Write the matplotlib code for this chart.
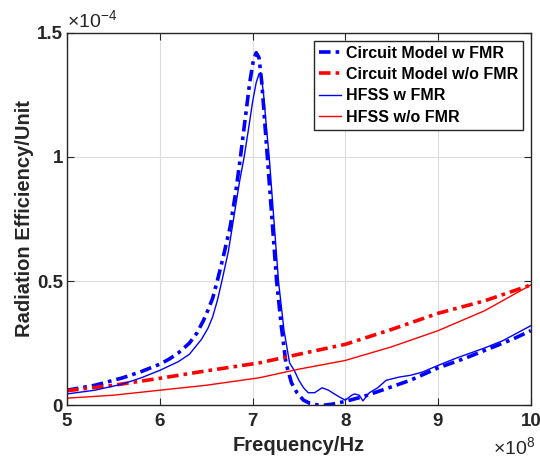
import numpy as np
import matplotlib.pyplot as plt

plt.rcParams['font.family'] = ['Liberation Sans', 'DejaVu Sans']
plt.rcParams['mathtext.fontset'] = 'custom'
plt.rcParams['mathtext.rm'] = 'Liberation Sans'

# frequency in units of 1e8 Hz, efficiency in units of 1e-4
f_cm_w = [5.0, 5.3, 5.6, 5.8, 6.0, 6.1, 6.2, 6.32, 6.4, 6.47, 6.52, 6.57, 6.62,
          6.68, 6.76, 6.82, 6.87, 6.92, 6.97, 7.01, 7.04, 7.07, 7.10, 7.13, 7.16,
          7.21, 7.26, 7.31, 7.36, 7.42, 7.48, 7.55, 7.62, 7.70, 7.78, 7.86, 8.0,
          8.2, 8.47, 8.7, 9.0, 9.3, 9.5, 9.8, 10.0]
e_cm_w = [0.060, 0.080, 0.110, 0.135, 0.165, 0.185, 0.210, 0.250, 0.290, 0.340,
          0.383, 0.430, 0.50, 0.59, 0.72, 0.86, 1.0, 1.15, 1.30, 1.39, 1.42, 1.40,
          1.30, 1.15, 1.00, 0.75, 0.50, 0.32, 0.17, 0.09, 0.05, 0.02, 0.007,
          0.001, 0.0, 0.004, 0.015, 0.035, 0.07, 0.10, 0.15, 0.19, 0.22, 0.265, 0.30]

f_cm_wo = [5.0, 5.5, 6.0, 6.5, 7.07, 7.5, 8.0, 8.5, 9.0, 9.5, 10.0]
e_cm_wo = [0.058, 0.08, 0.108, 0.138, 0.17, 0.205, 0.245, 0.305, 0.37, 0.42, 0.484]

f_hf_w = [5.0, 5.3, 5.6, 5.8, 6.0, 6.2, 6.32, 6.45, 6.52, 6.57, 6.62, 6.67, 6.74,
          6.80, 6.86, 6.91, 6.96, 7.00, 7.04, 7.07, 7.09, 7.12, 7.15, 7.18, 7.23,
          7.28, 7.34, 7.40, 7.45, 7.50, 7.55, 7.60, 7.67, 7.75, 7.82, 7.87, 7.95,
          8.0, 8.07, 8.1, 8.15, 8.19, 8.26, 8.35, 8.44, 8.58, 8.7, 8.83, 9.0, 9.2,
          9.5, 9.7, 9.85, 10.0]
e_hf_w = [0.045, 0.06, 0.085, 0.11, 0.14, 0.175, 0.205, 0.265, 0.31, 0.355, 0.42,
          0.50, 0.62, 0.76, 0.90, 1.0, 1.12, 1.22, 1.30, 1.335, 1.34, 1.25, 1.12,
          1.0, 0.75, 0.50, 0.30, 0.17, 0.14, 0.10, 0.07, 0.05, 0.05, 0.07, 0.06,
          0.048, 0.03, 0.02, 0.04, 0.045, 0.04, 0.017, 0.05, 0.07, 0.10, 0.113,
          0.12, 0.133, 0.16, 0.19, 0.23, 0.26, 0.29, 0.32]

f_hf_wo = [5.0, 5.5, 6.0, 6.5, 7.07, 7.5, 8.0, 8.5, 9.0, 9.5, 10.0]
e_hf_wo = [0.028, 0.04, 0.06, 0.08, 0.11, 0.145, 0.18, 0.235, 0.30, 0.38, 0.484]

labels = ['Circuit Model w FMR', 'Circuit Model w/o FMR', 'HFSS w FMR', 'HFSS w/o FMR']

fig = plt.figure(figsize=(5.4, 4.63), dpi=100)
ax = fig.add_axes([0.124, 0.125, 0.859, 0.804])

dashdot = (0, (3.2, 1.4, 1.0, 1.4))
ax.plot(f_cm_w, e_cm_w, color='#0000ff', lw=2.6, ls=dashdot, label=labels[0])
ax.plot(f_cm_wo, e_cm_wo, color='#ff0000', lw=2.6, ls=dashdot, label=labels[1])
ax.plot(f_hf_w, e_hf_w, color='#0000ff', lw=1.0, label=labels[2])
ax.plot(f_hf_wo, e_hf_wo, color='#ff0000', lw=1.0, label=labels[3])

ax.set_xlim(5, 10)
ax.set_ylim(0, 1.5)
ax.set_xticks([5, 6, 7, 8, 9, 10])
ax.set_yticks([0, 0.5, 1, 1.5])
ax.set_yticklabels(['0', '0.5', '1', '1.5'])
ax.grid(True, color='#dcdcdc', lw=0.8)
ax.set_axisbelow(True)
ax.tick_params(direction='in', top=True, right=True, length=5, width=0.8,
               labelsize=13.5, colors='#262626')
ax.tick_params(axis='x', pad=6)
ax.tick_params(axis='y', pad=3)
for lab in ax.get_xticklabels() + ax.get_yticklabels():
    lab.set_fontweight('bold')
for s in ax.spines.values():
    s.set_color('#262626')
    s.set_linewidth(1.0)

ax.set_xlabel('Frequency/Hz', fontsize=14.5, fontweight='bold', color='#262626', labelpad=4)
ax.set_ylabel('Radiation Efficiency/Unit', fontsize=14.5, fontweight='bold', color='#262626', labelpad=2)

ax.text(0.0, 1.003, '\u00d710$^{\\mathregular{-4}}$', transform=ax.transAxes,
        ha='left', va='bottom', fontsize=14, color='#262626')
ax.text(1.01, -0.085, '\u00d710$^{\\mathregular{8}}$', transform=ax.transAxes,
        ha='right', va='top', fontsize=14, color='#262626')

leg = ax.legend(loc='upper right', prop={'weight': 'bold', 'size': 11.5},
                handlelength=1.4, handletextpad=0.3, borderpad=0.3, labelspacing=0.4,
                fancybox=False, framealpha=1, edgecolor='#262626', borderaxespad=0.5)
leg.get_frame().set_linewidth(1.0)

fig.savefig('out.png', dpi=100)
